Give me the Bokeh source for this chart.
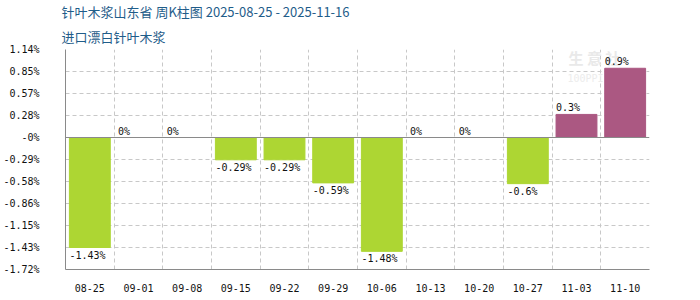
from bokeh.plotting import figure
from bokeh.models import FixedTicker, Label, LabelSet, ColumnDataSource, Span, Range1d, Title
from bokeh.core.properties import value
from bokeh.embed import file_html
from bokeh.resources import INLINE

# ---- data ----
dates = ["08-25", "09-01", "09-08", "09-15", "09-22", "09-29",
         "10-06", "10-13", "10-20", "10-27", "11-03", "11-10"]
values = [-1.43, 0, 0, -0.29, -0.29, -0.59, -1.48, 0, 0, -0.6, 0.3, 0.9]
y_ticks = [-1.716, -1.43, -1.144, -0.858, -0.572, -0.286, 0, 0.286, 0.572, 0.858, 1.144]
y_tick_labels = ["-1.72%", "-1.43%", "-1.15%", "-0.86%", "-0.58%", "-0.29%",
                 "-0%", "0.28%", "0.57%", "0.85%", "1.14%"]
title_text = "针叶木浆山东省 周K柱图 2025-08-25 - 2025-11-16"
subtitle = "进口漂白针叶木浆"

GREEN = "#add633"
PURPLE = "#ab5882"
GRID = "#c8c8c8"
AXIS = "#8a8a8a"
TITLE_C = "#1f5d8a"
MONO = "DejaVu Sans Mono"
CJK = "Noto Sans CJK SC"
BAR_W = 0.84

xs = list(range(len(dates)))
colors = [PURPLE if v >= 0 else GREEN for v in values]
texts = [f"{v:g}%" for v in values]
lab_x = [x - BAR_W / 2 for x in xs]
pos_src = ColumnDataSource(dict(x=[lab_x[i] for i in xs if values[i] >= 0],
                                y=[values[i] for i in xs if values[i] >= 0],
                                t=[texts[i] for i in xs if values[i] >= 0]))
neg_src = ColumnDataSource(dict(x=[lab_x[i] for i in xs if values[i] < 0],
                                y=[values[i] for i in xs if values[i] < 0],
                                t=[texts[i] for i in xs if values[i] < 0]))
src = ColumnDataSource(dict(x=xs, top=values, color=colors))

p = figure(width=700, height=300, output_backend="svg", toolbar_location=None,
           x_range=Range1d(-0.5, len(dates) - 0.5), y_range=Range1d(y_ticks[0], y_ticks[-1]),
           min_border_left=60, min_border_right=51, min_border_top=49, min_border_bottom=31)
p.outline_line_color = None
p.background_fill_color = "white"

# titles (first added sits closest to the plot)
p.add_layout(Title(text=subtitle, text_font=CJK, text_font_size="13px",
                   text_font_style="normal", text_color=TITLE_C, offset=-4,
                   standoff=8), "above")
p.add_layout(Title(text=title_text, text_font=CJK, text_font_size="13px",
                   text_font_style="normal", text_color=TITLE_C, offset=-4,
                   standoff=-1), "above")

# watermark (under the bars)
p.add_layout(Label(x=503, y=202, x_units="screen", y_units="screen", text="生 意 社",
                   text_font=CJK, text_font_size="15px", text_color="#e9e9e9",
                   text_font_style="bold", level="underlay"))
p.add_layout(Label(x=502, y=186, x_units="screen", y_units="screen", text="100PPI.COM",
                   text_font=MONO, text_font_size="10px", text_color="#ececec",
                   level="underlay"))

# grids
p.xgrid.ticker = FixedTicker(ticks=[x + 0.5 for x in xs])
p.xgrid.grid_line_color = GRID
p.xgrid.grid_line_dash = "4 3"
p.ygrid.ticker = FixedTicker(ticks=[t for t in y_ticks if t != 0])
p.ygrid.grid_line_color = GRID
p.ygrid.grid_line_dash = "4 3"

p.vbar(x="x", top="top", bottom=0, width=BAR_W, fill_color="color",
       line_color="color", line_width=1, source=src)

p.add_layout(Span(location=0, dimension="width", line_color=AXIS, line_width=1))

# axes
p.xaxis.ticker = FixedTicker(ticks=xs)
p.xaxis.major_label_overrides = {x: d for x, d in zip(xs, dates)}
p.yaxis.ticker = FixedTicker(ticks=y_ticks)
p.yaxis.major_label_overrides = {t: l for t, l in zip(y_ticks, y_tick_labels)}
for ax in (p.xaxis, p.yaxis):
    ax.axis_line_color = AXIS
    ax.major_tick_line_color = None
    ax.minor_tick_line_color = None
    ax.major_label_text_font = MONO
    ax.major_label_text_font_size = "10px"
    ax.major_label_text_color = "#111111"
p.xaxis.major_label_standoff = 8
p.yaxis.major_label_standoff = 20

# value labels
p.add_layout(LabelSet(x="x", y="y", text="t", source=pos_src, text_align="left",
                      text_baseline="bottom", y_offset=1, text_font=value(MONO),
                      text_font_size=value("10px"), text_color="#111111"))
p.add_layout(LabelSet(x="x", y="y", text="t", source=neg_src, text_align="left",
                      text_baseline="top", y_offset=-2, text_font=value(MONO),
                      text_font_size=value("10px"), text_color="#111111"))

open("out.html", "w").write(file_html(p, INLINE))
